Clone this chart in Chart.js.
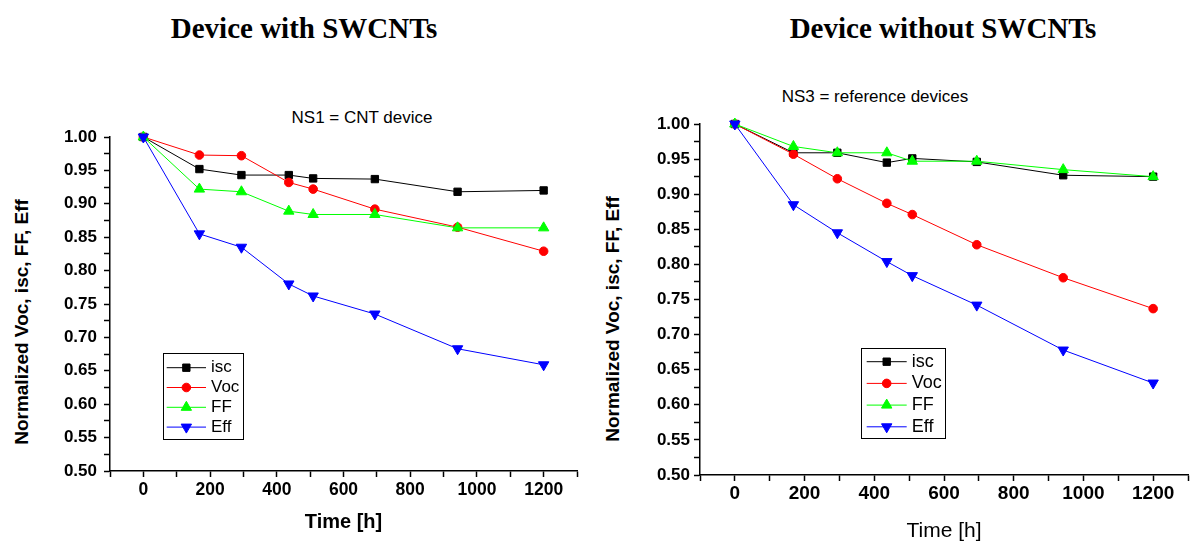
<!DOCTYPE html>
<html>
<head>
<meta charset="utf-8">
<script src="https://cdn.jsdelivr.net/npm/chart.js@4.4.1/dist/chart.umd.min.js"></script>
<style>
  html, body { margin: 0; padding: 0; background: #fff; }
  body { width: 1195px; height: 543px; position: relative; overflow: hidden; font-family: "Liberation Sans", Arial, sans-serif; }
  canvas { position: absolute; top: 0; }
  #cntChart { left: 0; }
  #refChart { left: 595px; }
  .lbl { position: absolute; white-space: nowrap; line-height: 1; transform: translate(-50%, -50%); color: #000; }
  .head { font-family: "Liberation Serif", "Times New Roman", serif; font-weight: bold; font-size: 29px; }
  .sub { font-size: 17px; }
  .ytitle { font-weight: bold; font-size: 19px; transform: translate(-50%, -50%) rotate(-90deg); }
</style>
</head>
<body>
<div class="lbl head" style="left:304px; top:28px;">Device with SWCNTs</div>
<div class="lbl head" style="left:943px; top:28px;">Device without SWCNTs</div>
<div class="lbl sub" style="left:362px; top:117px;">NS1 = CNT device</div>
<div class="lbl sub" style="left:875px; top:96px;">NS3 = reference devices</div>
<div class="lbl ytitle" style="left:21px; top:322px;">Normalized Voc, isc, FF, Eff</div>
<div class="lbl ytitle" style="left:612px; top:319px;">Normalized Voc, isc, FF, Eff</div>

<canvas id="cntChart" width="595" height="543"></canvas>
<canvas id="refChart" width="600" height="543"></canvas>

<script>
// ageing time, same for both devices
const hours = [0, 168, 294, 436, 509, 694, 942, 1200];

// NS1 - device with SWCNTs
const cntIsc = [1.000, 0.952, 0.943, 0.943, 0.938, 0.937, 0.918, 0.920];
const cntVoc = [1.000, 0.973, 0.972, 0.932, 0.922, 0.892, 0.865, 0.829];
const cntFF  = [1.000, 0.922, 0.918, 0.889, 0.884, 0.884, 0.864, 0.864];
const cntEff = [1.000, 0.855, 0.835, 0.780, 0.762, 0.735, 0.683, 0.659];

// NS3 - reference device without SWCNTs
const refIsc = [1.000, 0.959, 0.959, 0.945, 0.951, 0.946, 0.927, 0.925];
const refVoc = [1.000, 0.957, 0.922, 0.887, 0.871, 0.828, 0.781, 0.737];
const refFF  = [1.000, 0.968, 0.959, 0.959, 0.947, 0.947, 0.935, 0.925];
const refEff = [1.000, 0.885, 0.845, 0.804, 0.784, 0.742, 0.678, 0.631];

const seriesNames = ['isc', 'Voc', 'FF', 'Eff'];
const xLabels = [0, 200, 400, 600, 800, 1000, 1200];

Chart.defaults.font.family = '"Liberation Sans", Arial, sans-serif';
Chart.defaults.color = '#000';

const seriesStyle = [
    { color: '#000000', pointStyle: 'rect', radius: 5.2, rotation: 0 },
    { color: '#ff0000', pointStyle: 'circle', radius: 4.3, rotation: 0 },
    { color: '#00ff00', pointStyle: 'triangle', radius: 6, rotation: 0 },
    { color: '#0000ff', pointStyle: 'triangle', radius: 6, rotation: 180 }
];

/**
 * Boxed legend drawn inside the plot, line + marker + name
 */
const boxLegend = {
    id: 'boxLegend',
    afterDraw(chart, args, opts) {
        const ctx = chart.ctx;
        ctx.save();
        ctx.strokeStyle = '#000';
        ctx.lineWidth = 1;
        ctx.strokeRect(opts.x, opts.y, opts.w, opts.h);
        ctx.font = `${opts.fontSize}px "Liberation Sans", Arial, sans-serif`;
        ctx.textBaseline = 'middle';
        chart.data.datasets.forEach((ds, i) => {
            const y = opts.firstRow + i * opts.rowStep;
            ctx.strokeStyle = ds.borderColor;
            ctx.lineWidth = 1;
            ctx.beginPath();
            ctx.moveTo(opts.lineFrom, y);
            ctx.lineTo(opts.lineTo, y);
            ctx.stroke();
            ctx.fillStyle = ds.pointBackgroundColor;
            ctx.strokeStyle = ds.pointBorderColor;
            Chart.helpers.drawPoint(ctx, {
                pointStyle: ds.pointStyle,
                radius: ds.pointRadius,
                rotation: ds.pointRotation,
                borderWidth: ds.pointBorderWidth
            }, (opts.lineFrom + opts.lineTo) / 2, y);
            ctx.fillStyle = '#000';
            ctx.fillText(ds.label, opts.textX, y);
        });
        ctx.restore();
    }
};

function buildDatasets(values) {
    return values.map((vals, i) => {
        const st = seriesStyle[i];
        return {
            label: seriesNames[i],
            data: hours.map((h, k) => ({ x: h, y: vals[k] })),
            borderColor: st.color,
            borderWidth: 1,
            pointBackgroundColor: st.color,
            pointBorderColor: st.color,
            pointBorderWidth: 1,
            pointStyle: st.pointStyle,
            pointRadius: st.radius,
            pointRotation: st.rotation,
            tension: 0,
            fill: false,
            clip: false,
            order: values.length - 1 - i
        };
    });
}

function makeChart(id, values, cfg) {
    const ctx = document.getElementById(id).getContext('2d');
    return new Chart(ctx, {
        type: 'line',
        data: { datasets: buildDatasets(values) },
        options: {
            responsive: false,
            animation: false,
            devicePixelRatio: 1,
            layout: { padding: { top: cfg.top, right: cfg.right, left: 0, bottom: 0 } },
            plugins: {
                legend: { display: false },
                tooltip: { enabled: false },
                boxLegend: cfg.legend
            },
            scales: {
                x: {
                    type: 'linear',
                    min: -100,
                    max: 1300,
                    afterFit: s => { s.height = cfg.xHeight; },
                    ticks: {
                        stepSize: 100,
                        autoSkip: false,
                        maxRotation: 0,
                        padding: cfg.xPad,
                        color: '#000',
                        font: { size: cfg.xFont, weight: 'bold' },
                        callback: v => xLabels.includes(v) ? String(v) : ''
                    },
                    grid: { drawOnChartArea: false, tickLength: 6, tickColor: '#000', tickWidth: 1.5 },
                    border: { color: '#000', width: 1.5 },
                    title: {
                        display: true,
                        text: 'Time [h]',
                        color: '#000',
                        font: { size: cfg.titleSize, weight: cfg.titleWeight, lineHeight: 1 },
                        padding: { top: 0, bottom: cfg.titlePad }
                    }
                },
                y: {
                    type: 'linear',
                    min: 0.5,
                    max: 1.0,
                    afterFit: s => { s.width = cfg.yWidth; },
                    ticks: {
                        stepSize: 0.025,
                        autoSkip: false,
                        padding: cfg.yPad,
                        color: '#000',
                        font: { size: 17, weight: 'bold' },
                        callback: v => Math.round(v * 1000) % 50 === 0 ? v.toFixed(2) : ''
                    },
                    grid: { drawOnChartArea: false, tickLength: 6, tickColor: '#000', tickWidth: 1.5 },
                    border: { color: '#000', width: 1.5 }
                }
            }
        },
        plugins: [boxLegend]
    });
}

makeChart('cntChart', [cntIsc, cntVoc, cntFF, cntEff], {
    top: 137, right: 18, yWidth: 110, xHeight: 72,
    xPad: 3, yPad: 7, xFont: 17.5,
    titleSize: 20, titleWeight: 'bold', titlePad: 11,
    legend: { x: 163.5, y: 353.5, w: 80, h: 86, firstRow: 367.7, rowStep: 19.8,
              lineFrom: 166.7, lineTo: 206, textX: 211, fontSize: 17 }
});

makeChart('refChart', [refIsc, refVoc, refFF, refEff], {
    top: 124, right: 2, yWidth: 105, xHeight: 68,
    xPad: 1, yPad: 4, xFont: 19,
    titleSize: 21, titleWeight: 'normal', titlePad: 1,
    legend: { x: 266.5, y: 348.5, w: 84, h: 90, firstRow: 361.7, rowStep: 21.7,
              lineFrom: 271.7, lineTo: 311.7, textX: 316.7, fontSize: 18 }
});
</script>
</body>
</html>
